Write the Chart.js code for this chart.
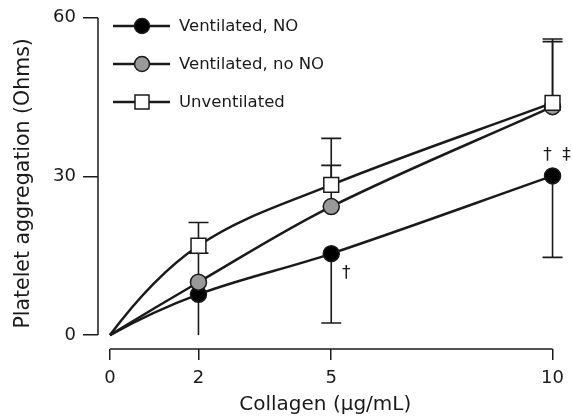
<!DOCTYPE html>
<html>
<head>
<meta charset="utf-8">
<script src="https://cdn.jsdelivr.net/npm/chart.js@4/dist/chart.umd.min.js"></script>
<style>
  html, body { margin: 0; padding: 0; background: #fff; }
  #wrap { width: 572px; height: 416px; }
</style>
</head>
<body>
<div id="wrap"><canvas id="c" width="572" height="416"></canvas></div>
<script>
// ---- Data ----
const collagen = [0, 2, 5, 10];
const seriesNames = ['Ventilated, NO', 'Ventilated, no NO', 'Unventilated'];
const ventNO = [0, 7.7, 15.4, 30.1];
const ventNoNO = [0, 10.0, 24.3, 43.2];
const unvent = [0, 16.9, 28.4, 43.9];
// error bars (SD) - black shown downward, others upward
const ventNOErrDown = [null, 7.7, 13.1, 15.4];
const ventNoNOErrUp = [null, 5.5, 7.8, 12.3];
const unventErrUp = [null, 4.4, 8.8, 12.1];
const xTickValues = [0, 2, 5, 10];
const yTickValues = [0, 30, 60];
// significance marks on Ventilated, NO series
const markX = [5, 10, 10];
const markText = ['†', '†', '‡'];

const FONT = "'DejaVu Sans', sans-serif";
const INK = '#1a1a1a';

function pts(ys) { return collagen.map((x, i) => ({ x: x, y: ys[i] })); }

const errorSets = [
  { values: ventNO, err: ventNOErrDown, dir: -1 },
  { values: ventNoNO, err: ventNoNOErrUp, dir: 1 },
  { values: unvent, err: unventErrUp, dir: 1 }
];

const errorBarPlugin = {
  id: 'errorBars',
  beforeDatasetsDraw(chart) {
    const { ctx, scales: { x, y } } = chart;
    ctx.save();
    ctx.strokeStyle = INK;
    ctx.lineWidth = 1.6;
    errorSets.forEach(s => {
      collagen.forEach((cx, i) => {
        if (s.err[i] == null) return;
        const end = s.values[i] + s.dir * s.err[i];
        const px = x.getPixelForValue(cx);
        const p0 = y.getPixelForValue(s.values[i]);
        const p1 = y.getPixelForValue(end);
        ctx.beginPath();
        ctx.moveTo(px, p0); ctx.lineTo(px, p1);
        if (end > 0.05) { ctx.moveTo(px - 10, p1); ctx.lineTo(px + 10, p1); }
        ctx.stroke();
      });
    });
    ctx.restore();
  }
};

// make the first curve segment (from the origin) a smooth concave arc
const smoothStartPlugin = {
  id: 'smoothStart',
  beforeDatasetDraw(chart, args) {
    const meta = args.meta;
    const line = meta.dataset;
    if (!line || !line.updateControlPoints) return;
    line.updateControlPoints(chart.chartArea, 'x');
    const p = meta.data;
    if (p.length < 3) return;
    const p0 = p[0], p1 = p[1];
    const h = p1.x - p0.x;
    const c = (p1.y - p0.y) / h;
    const m1 = (p1.cp2y - p1.cp1y) / (p1.cp2x - p1.cp1x);
    const m0 = 2 * c - m1;
    p0.cp2x = p0.x + h / 3; p0.cp2y = p0.y + m0 * h / 3;
    p1.cp1x = p1.x - h / 3; p1.cp1y = p1.y - m1 * h / 3;
  }
};

const axesPlugin = {
  id: 'axesLines',
  afterDraw(chart) {
    const { ctx, scales: { x, y }, chartArea } = chart;
    ctx.save();
    ctx.strokeStyle = INK;
    ctx.lineWidth = 1.5;
    // y axis line from 0 to 60
    ctx.beginPath();
    ctx.moveTo(chartArea.left, y.getPixelForValue(yTickValues[yTickValues.length - 1]));
    ctx.lineTo(chartArea.left, y.getPixelForValue(yTickValues[0]));
    ctx.stroke();
    // x axis line from 0 to 10
    ctx.beginPath();
    ctx.moveTo(x.getPixelForValue(xTickValues[0]), chartArea.bottom);
    ctx.lineTo(x.getPixelForValue(xTickValues[xTickValues.length - 1]), chartArea.bottom);
    ctx.stroke();

    // significance marks
    ctx.fillStyle = INK;
    ctx.font = '17px ' + FONT;
    ctx.textAlign = 'center';
    ctx.textBaseline = 'middle';
    markText.forEach((t, i) => {
      const idx = collagen.indexOf(markX[i]);
      const px = x.getPixelForValue(markX[i]);
      const py = y.getPixelForValue(ventNO[idx]);
      let dx, dy;
      if (markX[i] === 5) { dx = 15; dy = 20; }
      else if (t === '†') { dx = -5; dy = -20; }
      else { dx = 14; dy = -20; }
      ctx.fillText(t, px + dx, py + dy);
    });

    // legend
    const ds = chart.data.datasets;
    ds.forEach((d, i) => {
      const ly = 26 + i * 38;
      ctx.strokeStyle = INK;
      ctx.lineWidth = 2.5;
      ctx.beginPath();
      ctx.moveTo(113, ly); ctx.lineTo(170, ly);
      ctx.stroke();
      ctx.fillStyle = d.pointBackgroundColor;
      ctx.lineWidth = 1.5;
      ctx.beginPath();
      if (d.pointStyle === 'rect') {
        ctx.rect(142 - 7, ly - 7, 14, 14);
      } else {
        ctx.arc(142, ly, 7.5, 0, Math.PI * 2);
      }
      ctx.fill();
      ctx.stroke();
      ctx.fillStyle = INK;
      ctx.font = '16.5px ' + FONT;
      ctx.textAlign = 'left';
      ctx.textBaseline = 'middle';
      ctx.fillText(d.label, 179, ly + 1);
    });
    ctx.restore();
  }
};

function ds(label, ys, fill, style, order) {
  return {
    label: label,
    data: pts(ys),
    borderColor: INK,
    borderWidth: 2.5,
    tension: 0.35,
    fill: false,
    pointStyle: style,
    pointBackgroundColor: fill,
    pointBorderColor: INK,
    pointBorderWidth: 1.5,
    pointRadius: c => (c.dataIndex === 0 ? 0 : (style === 'rect' ? 10.5 : 8)),
    pointHoverRadius: c => (c.dataIndex === 0 ? 0 : 8),
    clip: false,
    order: order
  };
}

new Chart(document.getElementById('c'), {
  type: 'line',
  data: {
    datasets: [
      ds(seriesNames[0], ventNO, '#000000', 'circle', 3),
      ds(seriesNames[1], ventNoNO, '#999999', 'circle', 2),
      ds(seriesNames[2], unvent, '#ffffff', 'rect', 1)
    ]
  },
  options: {
    responsive: false,
    animation: false,
    events: [],
    layout: { padding: { top: 16, right: 15, bottom: 0, left: 0 } },
    plugins: { legend: { display: false }, tooltip: { enabled: false } },
    scales: {
      x: {
        type: 'linear',
        min: -0.27,
        max: 10,
        afterBuildTicks: s => { s.ticks = xTickValues.map(v => ({ value: v })); },
        afterFit: s => { s.height = 67; },
        ticks: { color: INK, font: { family: FONT, size: 18 }, padding: 8, maxRotation: 0 },
        grid: { display: true, drawOnChartArea: false, drawTicks: true, tickLength: 11, color: INK, lineWidth: 1.5 },
        border: { display: false },
        title: { display: true, text: 'Collagen (µg/mL)', color: INK, font: { family: FONT, size: 20 }, padding: { top: 0, bottom: -1 } }
      },
      y: {
        min: -2.63,
        max: 60,
        afterBuildTicks: s => { s.ticks = yTickValues.map(v => ({ value: v })); },
        afterFit: s => { s.width = 98; },
        ticks: { color: INK, font: { family: FONT, size: 18 }, padding: 7 },
        grid: { display: true, drawOnChartArea: false, drawTicks: true, tickLength: 15, color: INK, lineWidth: 1.5 },
        border: { display: false },
        title: { display: true, text: 'Platelet aggregation (Ohms)', color: INK, font: { family: FONT, size: 20.5 }, padding: { top: 11, bottom: 0 } }
      }
    }
  },
  plugins: [errorBarPlugin, smoothStartPlugin, axesPlugin]
});
</script>
</body>
</html>
